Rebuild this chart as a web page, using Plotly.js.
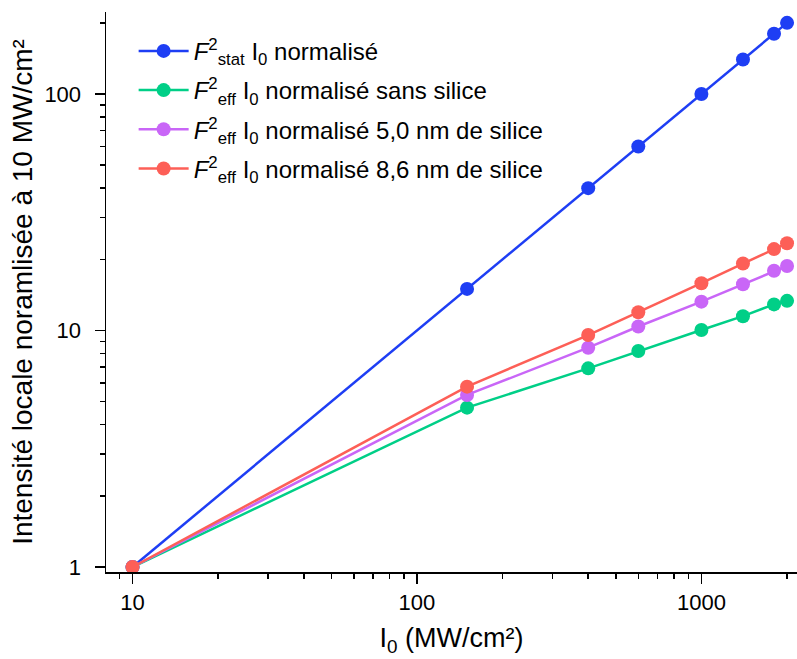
<!DOCTYPE html>
<html>
<head>
<meta charset="utf-8">
<script src="https://cdn.plot.ly/plotly-3.0.1.min.js"></script>
<style>html,body{margin:0;padding:0;background:#fff;}#chart{width:797px;height:659px;}</style>
</head>
<body>
<div id="chart"></div>
<script>
// Data
const intensity = [10, 150, 400, 600, 1000, 1400, 1800, 2000];
const fStat = [1, 15, 40, 60, 100, 140, 180, 200];
const fEffNoSilica = [1, 4.72, 6.92, 8.19, 10.05, 11.5, 12.9, 13.35];
const fEff50nm = [1, 5.34, 8.46, 10.4, 13.25, 15.7, 17.9, 18.75];
const fEff86nm = [1, 5.79, 9.57, 11.95, 15.85, 19.2, 22.1, 23.4];

const seriesNames = [
  "<i>F</i><sup>2</sup><sub>stat</sub> I<sub>0</sub> normalisé",
  "<i>F</i><sup>2</sup><sub>eff</sub> I<sub>0</sub> normalisé sans silice",
  "<i>F</i><sup>2</sup><sub>eff</sub> I<sub>0</sub> normalisé 5,0 nm de silice",
  "<i>F</i><sup>2</sup><sub>eff</sub> I<sub>0</sub> normalisé 8,6 nm de silice"
];
const seriesColors = ["#1e3ef4", "#00cf87", "#c966f7", "#fd5f57"];

const xTickVals = [10, 100, 1000];
const xTickText = ["10", "100", "1000"];
const yTickVals = [1, 10, 100];
const yTickText = ["1", "10", "100"];
const xMinorVals = [9, 20, 30, 40, 50, 60, 70, 80, 90, 200, 300, 400, 500, 600, 700, 800, 900, 2000];
const yMinorVals = [2, 3, 4, 5, 6, 7, 8, 9, 20, 30, 40, 50, 60, 70, 80, 90, 200];

const xTitle = "I<sub>0</sub> (MW/cm²)";
const yTitle = "Intensité locale noramlisée à 10 MW/cm²";

const xRange = [Math.log10(8.07), Math.log10(2168)];
const yRange = [-0.0211, 2.347];

const ys = [fStat, fEffNoSilica, fEff50nm, fEff86nm];
const traces = ys.map((y, i) => ({
  x: intensity, y: y, type: 'scatter', mode: 'lines+markers',
  name: seriesNames[i], legendgroup: 'g' + i,
  line: {color: seriesColors[i], width: 2.5},
  marker: {color: seriesColors[i], size: 14},
  cliponaxis: false
}));

const font = {family: 'Liberation Sans, Arial, sans-serif', color: '#000'};
const baseAxis = {
  type: 'log', showgrid: false, zeroline: false, showline: true,
  linecolor: '#000', linewidth: 1.5, tickcolor: '#000', tickwidth: 1.5,
  ticklen: 10, tickmode: 'array'
};

const layout = {
  width: 797, height: 659,
  margin: {l: 106, r: 0, t: 12, b: 87},
  paper_bgcolor: '#fff', plot_bgcolor: '#fff',
  font: Object.assign({size: 22}, font),
  showlegend: true,
  legend: {
    x: 0.04, y: 0.97, xanchor: 'left', yanchor: 'top',
    bgcolor: 'rgba(0,0,0,0)', borderwidth: 0,
    font: Object.assign({size: 24}, font),
    tracegroupgap: 5, itemwidth: 50
  },
  xaxis: Object.assign({}, baseAxis, {
    range: xRange, ticks: 'outside', tickvals: xTickVals, ticktext: xTickText,
    tickfont: Object.assign({size: 22}, font),
    minor: {tickmode: 'array', tickvals: xMinorVals, ticks: 'outside', ticklen: 5, tickwidth: 1.5, tickcolor: '#000'},
    title: {text: xTitle, font: Object.assign({size: 27}, font), standoff: 14},
    anchor: 'y'
  }),
  yaxis: Object.assign({}, baseAxis, {
    range: yRange, ticks: 'outside', tickvals: yTickVals, ticktext: yTickText,
    tickfont: Object.assign({size: 22}, font), ticklabelstandoff: 9,
    minor: {tickmode: 'array', tickvals: yMinorVals, ticks: 'outside', ticklen: 5, tickwidth: 1.5, tickcolor: '#000'},
    title: {text: yTitle, font: Object.assign({size: 28}, font), standoff: 3},
    anchor: 'x'
  }),
  xaxis2: Object.assign({}, baseAxis, {
    range: xRange, overlaying: 'x', side: 'top', anchor: 'y',
    ticks: 'inside', tickvals: xTickVals, showticklabels: false,
    minor: {tickmode: 'array', tickvals: xMinorVals, ticks: 'inside', ticklen: 5, tickwidth: 1.5, tickcolor: '#000'}
  }),
  yaxis2: Object.assign({}, baseAxis, {
    range: yRange, overlaying: 'y', side: 'right', anchor: 'x',
    ticks: 'inside', tickvals: yTickVals, showticklabels: false,
    minor: {tickmode: 'array', tickvals: yMinorVals, ticks: 'inside', ticklen: 5, tickwidth: 1.5, tickcolor: '#000'}
  })
};

Plotly.newPlot('chart', traces, layout, {staticPlot: true, displayModeBar: false});
</script>
</body>
</html>
